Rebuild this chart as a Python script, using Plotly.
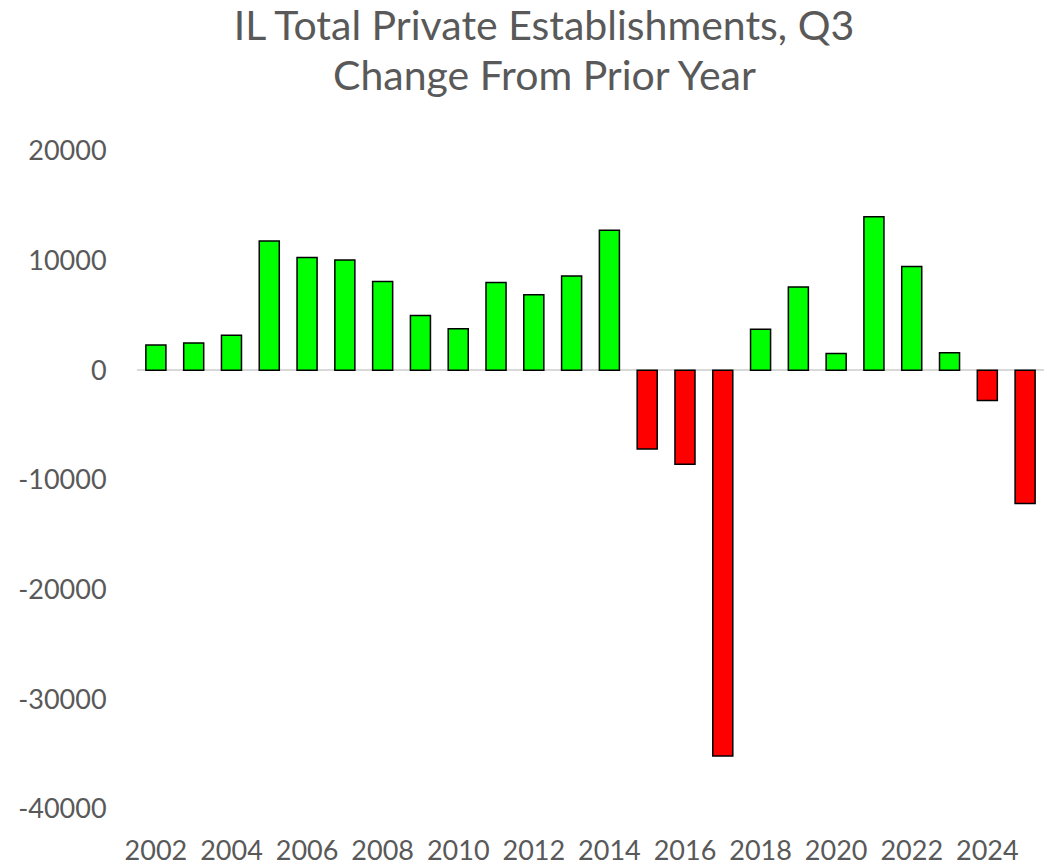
import plotly.graph_objects as go

# Year-over-year change in IL private establishments (Q3)
years = list(range(2002, 2026))
changes = [2300, 2500, 3200, 11800, 10300, 10050, 8100, 5000, 3800, 8000,
           6900, 8600, 12770, -7170, -8560, -35160, 3750, 7600, 1530, 14000,
           9470, 1600, -2740, -12140]

# Value-axis ticks, written with a plain hyphen for negatives
y_tick_vals = [-40000, -30000, -20000, -10000, 0, 10000, 20000]
y_tick_text = ["-40000", "-30000", "-20000", "-10000", "0", "10000", "20000"]

pos_color = "#00FF00"
neg_color = "#FF0000"
bar_colors = [pos_color if v >= 0 else neg_color for v in changes]

text_color = "#595959"
font_family = "Lato"
title_size = 41

fig = go.Figure(
    go.Bar(
        x=years,
        y=changes,
        marker=dict(color=bar_colors, line=dict(color="black", width=1.5)),
        hoverinfo="x+y",
    )
)

plot_w = 1058 - 137 - 14
plot_h = 867 - 151 - 58

fig.update_layout(
    width=1058,
    height=867,
    paper_bgcolor="white",
    plot_bgcolor="white",
    margin=dict(l=137, r=14, t=151, b=58),
    bargap=0.47,
    showlegend=False,
    font=dict(family=font_family, color=text_color),
    title=dict(
        text="IL Total Private Establishments, Q3",
        x=544 / 1058,
        xanchor="center",
        y=1 - 25.5 / 867,
        yanchor="middle",
        yref="container",
        font=dict(size=title_size, color=text_color, family=font_family),
    ),
    annotations=[
        dict(
            text="Change From Prior Year",
            xref="paper",
            yref="paper",
            x=(544 - 137) / plot_w,
            y=1 + (151 - 74.5) / plot_h,
            xanchor="center",
            yanchor="middle",
            showarrow=False,
            font=dict(size=title_size, color=text_color, family=font_family),
        )
    ],
)

fig.update_xaxes(
    range=[2001.5, 2025.5],
    tickmode="linear",
    tick0=2002,
    dtick=2,
    showgrid=False,
    showline=False,
    zeroline=False,
    automargin=False,
    ticks="outside",
    ticklen=18,
    tickcolor="rgba(0,0,0,0)",
    tickfont=dict(size=27, color=text_color, family=font_family),
)

fig.update_yaxes(
    range=[-40000, 20000],
    tickmode="array",
    tickvals=y_tick_vals,
    ticktext=y_tick_text,
    showgrid=False,
    showline=False,
    zeroline=True,
    zerolinecolor="#D9D9D9",
    zerolinewidth=2,
    automargin=False,
    ticks="outside",
    ticklen=24,
    tickcolor="rgba(0,0,0,0)",
    tickfont=dict(size=27, color=text_color, family=font_family),
)

fig.write_html("out.html")
